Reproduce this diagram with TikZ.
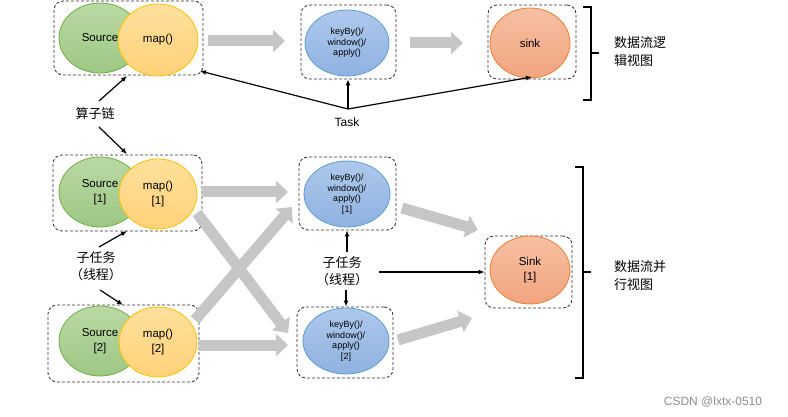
\documentclass[tikz,border=0pt]{standalone}
\usepackage{fontspec}
\setmainfont{Liberation Sans}
\newfontfamily\cjk{Noto Sans CJK SC}
\usetikzlibrary{shapes.geometric,arrows.meta,calc}
\definecolor{grnT}{RGB}{186,217,164}
\definecolor{grnB}{RGB}{158,199,132}
\definecolor{grnD}{RGB}{112,173,71}
\definecolor{ylwT}{RGB}{255,224,156}
\definecolor{ylwB}{RGB}{255,210,122}
\definecolor{ylwD}{RGB}{255,192,0}
\definecolor{bluT}{RGB}{174,200,236}
\definecolor{bluB}{RGB}{143,178,224}
\definecolor{bluD}{RGB}{91,155,213}
\definecolor{orgT}{RGB}{246,192,162}
\definecolor{orgB}{RGB}{242,164,128}
\definecolor{orgD}{RGB}{237,125,49}
\definecolor{arrG}{RGB}{198,198,198}
\begin{document}
\begin{tikzpicture}[x=1pt,y=-1pt,
  grpbox/.style={draw=black!80, dash pattern=on 3pt off 2pt, rounded corners=9pt, line width=0.8pt, inner sep=0pt},
  ell/.style={ellipse, inner sep=0pt, align=center, line width=0.8pt, font=\fontsize{11.5}{15}\selectfont},
  srcell/.style={ell, draw=grnD, top color=grnT, bottom color=grnB},
  mapell/.style={ell, draw=ylwD, top color=ylwT, bottom color=ylwB},
  keyell/.style={ell, draw=bluD, top color=bluT, bottom color=bluB, font=\fontsize{9}{10.5}\selectfont},
  snkell/.style={ell, draw=orgD, top color=orgT, bottom color=orgB},
  grayarrow/.style={draw=arrG, line width=11pt, -{Triangle[length=12pt,width=22pt]}},
  blk/.style={draw=black, line width=1.2pt, -{Latex[length=6pt,width=5pt]}},
  cn/.style={font=\cjk\fontsize{13}{17}\selectfont, align=center, inner sep=0pt},
  sidelbl/.style={font=\cjk\fontsize{13}{18}\selectfont, align=left, anchor=west, inner sep=0pt},
  brk/.style={draw=black, line width=1.1pt}
]
\useasboundingbox (0,0) rectangle (788,417);

% ---------- group boxes ----------
\node[grpbox, minimum width=149pt, minimum height=74pt] (box1) at (128.5,38) {};
\node[grpbox, minimum width=95pt, minimum height=74pt] (box2) at (348.5,42) {};
\node[grpbox, minimum width=88pt, minimum height=74pt] (box3) at (532,42) {};
\node[grpbox, minimum width=149pt, minimum height=76pt] (boxA1) at (127.5,193) {};
\node[grpbox, minimum width=97pt, minimum height=73pt] (boxB1) at (347.5,193.5) {};
\node[grpbox, minimum width=87pt, minimum height=72pt] (boxS) at (528.5,272) {};
\node[grpbox, minimum width=151pt, minimum height=77pt] (boxA2) at (123.5,343.5) {};
\node[grpbox, minimum width=96pt, minimum height=71pt] (boxB2) at (345,342.5) {};

% ---------- ellipses ----------
\node[srcell, minimum width=82pt, minimum height=70pt] (src1) at (100,38) {Source};
\node[mapell, minimum width=80pt, minimum height=72pt] (map1) at (158,40) {map()};
\node[keyell, minimum width=84pt, minimum height=66pt] (key1) at (347,43) {keyBy()/\\window()/\\apply()};
\node[snkell, minimum width=80pt, minimum height=70pt] (sink1) at (530,43) {sink};

\node[srcell, minimum width=82pt, minimum height=70pt] (srcA) at (100,192) {Source\\{[1]}};
\node[mapell, minimum width=78pt, minimum height=70pt] (mapA) at (158,194) {map()\\{[1]}};
\node[keyell, minimum width=86pt, minimum height=66pt] (keyA) at (347,194) {keyBy()/\\window()/\\apply()\\{[1]}};
\node[snkell, minimum width=80pt, minimum height=68pt] (sinkP) at (530,270) {Sink\\{[1]}};

\node[srcell, minimum width=82pt, minimum height=70pt] (srcB) at (100,341) {Source\\{[2]}};
\node[mapell, minimum width=78pt, minimum height=70pt] (mapB) at (158,342) {map()\\{[2]}};
\node[keyell, minimum width=86pt, minimum height=66pt] (keyB) at (346,341) {keyBy()/\\window()/\\apply()\\{[2]}};

% ---------- gray data-flow arrows ----------
\coordinate (g1s) at (208,41);  \coordinate (g1e) at (285,41);
\coordinate (g2s) at (410,43);  \coordinate (g2e) at (463,43);
\coordinate (g3s) at (202,192); \coordinate (g3e) at (288,192);
\coordinate (g4s) at (197,213); \coordinate (g4e) at (288,333);
\coordinate (g5s) at (195,320); \coordinate (g5e) at (292,207);
\coordinate (g6s) at (199,345); \coordinate (g6e) at (288,345);
\coordinate (g7s) at (402,208); \coordinate (g7e) at (478,230);
\coordinate (g8s) at (398,340); \coordinate (g8e) at (472,318);
\foreach \a in {1,...,8} {\draw[grayarrow] (g\a s) -- (g\a e);}

% ---------- labels ----------
\node[cn] (chain) at (95,114) {算子链};
\node[font=\fontsize{12}{14}\selectfont, inner sep=0pt] (task) at (347,122) {Task};
\node[cn] (subL) at (96,266) {子任务\\（线程）};
\node[cn] (subM) at (342,271) {子任务\\（线程）};
\node[sidelbl] (logic) at (614,52) {数据流逻\\辑视图};
\node[sidelbl] (para) at (614,276) {数据流并\\行视图};
\node[font=\fontsize{12}{14}\selectfont, text=black!45, inner sep=0pt] (wm) at (713,402) {CSDN @lxtx-0510};

% ---------- black arrows ----------
\coordinate (c1s) at (99,101);  \coordinate (c1e) at (127,76);
\coordinate (c2s) at (99,127);  \coordinate (c2e) at (127,154);
\draw[blk] (c1s) -- (c1e);
\draw[blk] (c2s) -- (c2e);

\coordinate (tj) at (348,109);
\coordinate (t1e) at (200,71);
\coordinate (t3e) at (532,77);
\draw[blk] (tj) -- (t1e);
\draw[blk] (tj) -- (box2.south -| tj);
\draw[blk] (tj) -- (t3e);

\coordinate (s1s) at (99,247);  \coordinate (s1e) at (127,231);
\coordinate (s2s) at (100,290); \coordinate (s2e) at (123,305);
\draw[blk] (s1s) -- (s1e);
\draw[blk] (s2s) -- (s2e);

\coordinate (m1s) at (347,252);
\coordinate (m2s) at (346,290);
\coordinate (m3s) at (379,272);
\draw[blk] (m1s) -- (boxB1.south -| m1s);
\draw[blk] (m2s) -- (boxB2.north -| m2s);
\draw[blk] (m3s) -- (boxS.west |- m3s);

% ---------- brackets ----------
\draw[brk] (583,7) -- (591,7) -- (591,100) -- (583,100);
\draw[brk] (591,53) -- (599,53);
\draw[brk] (575,167) -- (583,167) -- (583,378) -- (575,378);
\draw[brk] (583,272) -- (591,272);
\end{tikzpicture}
\end{document}
